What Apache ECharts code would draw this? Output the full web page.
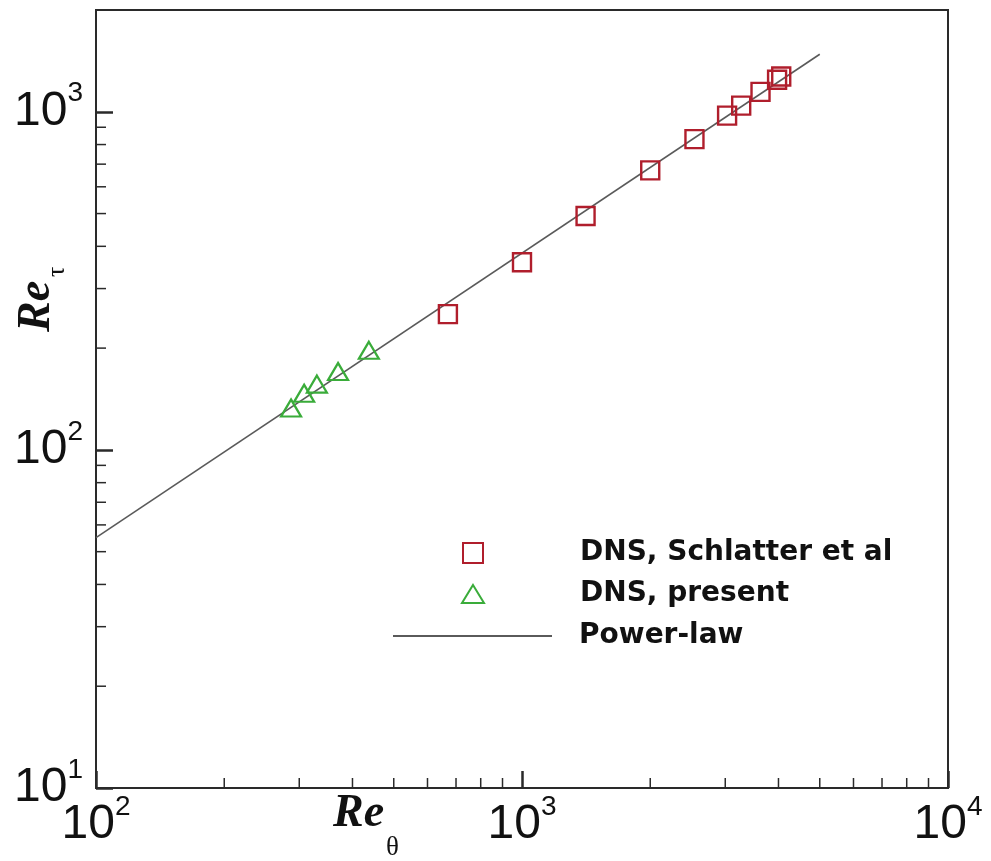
<!DOCTYPE html>
<html>
<head>
<meta charset="utf-8">
<script src="https://cdn.jsdelivr.net/npm/echarts@6/dist/echarts.min.js"></script>
<style>
html,body{margin:0;padding:0;background:#fff;}
#chart{width:991px;height:861px;}
</style>
</head>
<body>
<div id="chart"></div>
<script>
// ---- data ----
const schlatterReTheta = [670, 1000, 1410, 2000, 2540, 3030, 3270, 3630, 3970, 4060];
const schlatterReTau   = [252, 359, 492, 671, 830, 974, 1043, 1145, 1244, 1271];
const presentReTheta = [287, 308, 330, 370, 437];
const presentReTau   = [133, 147, 156.5, 170.5, 197];
const powerLawReTheta = [100, 5000];
const powerLawReTau   = [55, 1480];
const xMinorTicks = [200,300,400,500,600,700,800,900,2000,3000,4000,5000,6000,7000,8000,9000];
const yMinorTicks = [20,30,40,50,60,70,80,90,200,300,400,500,600,700,800,900];
const xTickExponents = {100: '2', 1000: '3', 10000: '4'};
const yTickExponents = {10: '1', 100: '2', 1000: '3'};
const seriesNames = ['DNS, Schlatter et al', 'DNS, present', 'Power-law'];

const X_MIN = 100, X_MAX = 10000, Y_MIN = 10, Y_MAX = 2000;
const RED = '#b01e2c', GREEN = '#3aac3a', LINE = '#5a5a5a', FRAME = '#2a2a2a';

const zip = (a, b) => a.map((v, i) => [v, b[i]]);

const labelRich = {
  m: {fontFamily: 'Liberation Sans', fontSize: 48, lineHeight: 56, color: '#111', verticalAlign: 'bottom'},
  s: {fontFamily: 'Liberation Sans', fontSize: 28, lineHeight: 28, color: '#111', verticalAlign: 'top'}
};
const expLabel = (map) => (v) => {
  const e = map[Math.round(v)];
  return e ? '{m|10}{s|' + e + '}' : '';
};

const legendText = {fontFamily: 'DejaVu Sans', fontWeight: 'bold', fontSize: 28, color: '#111'};

function minorTickSeries(axis, values) {
  return {
    type: 'custom',
    silent: true,
    clip: false,
    z: 1,
    data: values.map(v => axis === 'x' ? [v, Y_MIN] : [X_MIN, v]),
    renderItem: function (params, api) {
      const p = api.coord([api.value(0), api.value(1)]);
      const len = 10;
      return {
        type: 'line',
        shape: axis === 'x'
          ? {x1: p[0], y1: p[1], x2: p[0], y2: p[1] - len}
          : {x1: p[0], y1: p[1], x2: p[0] + len, y2: p[1]},
        style: {stroke: FRAME, lineWidth: 1.5}
      };
    }
  };
}

const chart = echarts.init(document.getElementById('chart'));
chart.setOption({
  animation: false,
  backgroundColor: '#fff',
  grid: {left: 96, top: 10, right: 43, bottom: 73, show: true, borderColor: FRAME, borderWidth: 2, backgroundColor: 'transparent'},
  xAxis: {
    type: 'log', logBase: 10, min: X_MIN, max: X_MAX,
    axisLine: {lineStyle: {color: FRAME, width: 2}},
    axisTick: {inside: true, length: 17, lineStyle: {color: FRAME, width: 2.5}},
    splitLine: {show: false},
    axisLabel: {margin: 5, padding: [0, 0, 8, 0], formatter: expLabel(xTickExponents), rich: labelRich, showMinLabel: true, showMaxLabel: true}
  },
  yAxis: {
    type: 'log', logBase: 10, min: Y_MIN, max: Y_MAX, splitNumber: 3,
    axisLine: {lineStyle: {color: FRAME, width: 2}},
    axisTick: {inside: true, length: 17, lineStyle: {color: FRAME, width: 2.5}},
    splitLine: {show: false},
    axisLabel: {margin: 13, padding: [0, 0, 8, 0], formatter: expLabel(yTickExponents), rich: labelRich, showMaxLabel: false}
  },
  legend: [
    {
      left: 462, top: 539, padding: 0, itemWidth: 20, itemHeight: 20, selectedMode: false,
      textStyle: Object.assign({padding: [0,0,0,92]}, legendText),
      data: [{name: seriesNames[0], icon: 'rect', itemStyle: {color: 'rgba(0,0,0,0)', borderColor: RED, borderWidth: 2}}]
    },
    {
      left: 461, top: 580, padding: 0, itemWidth: 22, itemHeight: 18, selectedMode: false,
      textStyle: Object.assign({padding: [0,0,0,91]}, legendText),
      data: [{name: seriesNames[1], icon: 'triangle', itemStyle: {color: 'rgba(0,0,0,0)', borderColor: GREEN, borderWidth: 2}}]
    },
    {
      left: 393, top: 622, padding: 0, itemWidth: 159, itemHeight: 2, selectedMode: false,
      textStyle: Object.assign({padding: [0,0,0,22]}, legendText),
      data: [{name: seriesNames[2], icon: 'rect', itemStyle: {color: LINE, borderWidth: 0}}]
    }
  ],
  graphic: [
    {
      type: 'text', x: 333, y: 837,
      style: {
        text: '{r|Re}{s|θ}',
        textVerticalAlign: 'bottom',
        rich: {
          r: {fontFamily: 'Liberation Serif', fontStyle: 'italic', fontWeight: 'bold', fontSize: 46, lineHeight: 46, fill: '#111'},
          s: {fontFamily: 'Liberation Serif', fontSize: 27, lineHeight: 27, fill: '#111', verticalAlign: 'bottom', padding: [0,0,-24,2]}
        }
      }
    },
    {
      type: 'text', x: 14, y: 332, rotation: Math.PI / 2,
      style: {
        text: '{r|Re}{s|τ}',
        rich: {
          r: {fontFamily: 'Liberation Serif', fontStyle: 'italic', fontWeight: 'bold', fontSize: 46, lineHeight: 46, fill: '#111'},
          s: {fontFamily: 'Liberation Serif', fontSize: 26, lineHeight: 26, fill: '#111', verticalAlign: 'bottom', padding: [0,0,-10,4]}
        }
      }
    }
  ],
  series: [
    {
      name: seriesNames[2], type: 'line', data: zip(powerLawReTheta, powerLawReTau),
      symbol: 'none', showSymbol: false, z: 2,
      lineStyle: {color: LINE, width: 1.6}, itemStyle: {color: LINE}
    },
    {
      name: seriesNames[0], type: 'scatter', data: zip(schlatterReTheta, schlatterReTau),
      symbol: 'rect', symbolSize: 18, z: 3,
      itemStyle: {color: 'rgba(0,0,0,0)', borderColor: RED, borderWidth: 2.4, opacity: 1}
    },
    {
      name: seriesNames[1], type: 'scatter', data: zip(presentReTheta, presentReTau),
      symbol: 'triangle', symbolSize: [20, 17], z: 3,
      itemStyle: {color: 'rgba(0,0,0,0)', borderColor: GREEN, borderWidth: 2.2, opacity: 1}
    },
    minorTickSeries('x', xMinorTicks),
    minorTickSeries('y', yMinorTicks)
  ]
});
</script>
</body>
</html>
